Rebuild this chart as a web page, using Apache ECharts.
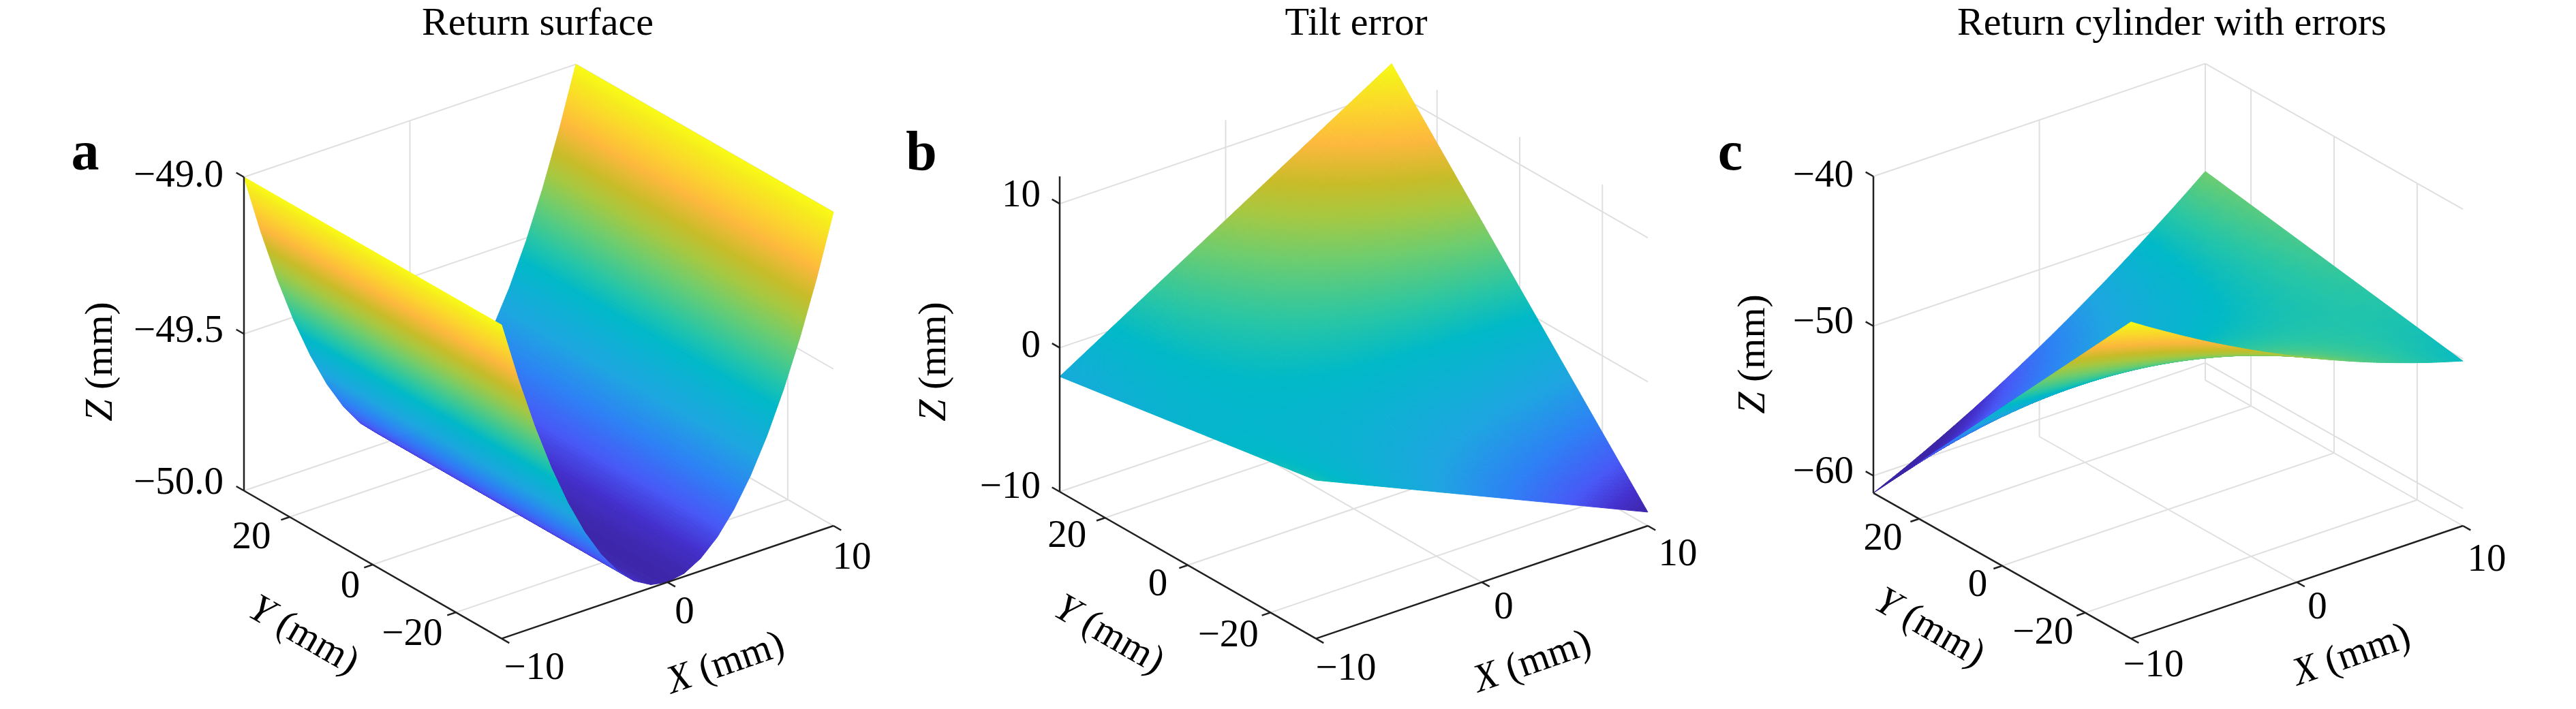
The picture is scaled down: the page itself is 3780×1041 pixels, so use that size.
<!DOCTYPE html>
<html>
<head>
<meta charset="utf-8">
<style>html,body{margin:0;padding:0;background:#fff}#chart{width:3780px;height:1041px}</style>
<script src="https://cdn.jsdelivr.net/npm/echarts@6/dist/echarts.min.js"></script>
</head>
<body>
<div id="chart"></div>
<script>
// ---------- values ----------
const panelTitles = ['Return surface', 'Tilt error', 'Return cylinder with errors'];
const panelLetters = ['a', 'b', 'c'];
const xTicks = [-10, 0, 10];
const yTicks = [-20, 0, 20];
const xTickLabels = ['\u221210', '0', '10'];
const yTickLabels = ['\u221220', '0', '20'];
const zTicksA = [-50, -49.5, -49];
const zTicksB = [-10, 0, 10];
const zTicksC = [-60, -50, -40];
const zTickLabelsA = ['\u221250.0', '\u221249.5', '\u221249.0'];
const zTickLabelsB = ['\u221210', '0', '10'];
const zTickLabelsC = ['\u221260', '\u221250', '\u221240'];
const xLimits = [-10, 10];
const yLimits = [-31, 31];
const zLimitsA = [-50, -49];
const zLimitsB = [-10, 11.9];
const zLimitsC = [-61.15, -40];
const colorLimitsA = [-50, -49];
const colorLimitsB = [-9.05, 11.9];
const colorLimitsC = [-58.5, -40];

const xSamples = [-10,-9,-8,-7,-6,-5,-4,-3,-2,-1,0,1,2,3,4,5,6,7,8,9,10];
const ySamples = [31, -31];
// surface a: Z at Y = +31 and Y = -31
const zReturnFar  = [-49.00,-49.19,-49.36,-49.51,-49.64,-49.75,-49.84,-49.91,-49.96,-49.99,-50.00,-49.99,-49.96,-49.91,-49.84,-49.75,-49.64,-49.51,-49.36,-49.19,-49.00];
const zReturnNear = [-49.00,-49.19,-49.36,-49.51,-49.64,-49.75,-49.84,-49.91,-49.96,-49.99,-50.00,-49.99,-49.96,-49.91,-49.84,-49.75,-49.64,-49.51,-49.36,-49.19,-49.00];
// surface b: four corners
const xTiltSamples = [-10, 10];
const zTiltFar  = [-2.0, 11.9];
const zTiltNear = [1.0, -9.05];
// surface c
const zCylinderFar  = [-61.15,-60.64,-60.12,-59.57,-59.00,-58.41,-57.81,-57.18,-56.53,-55.86,-55.18,-54.47,-53.74,-52.99,-52.23,-51.44,-50.63,-49.80,-48.96,-48.09,-47.20];
const zCylinderNear = [-40.00,-40.70,-41.37,-42.03,-42.67,-43.29,-43.88,-44.46,-45.02,-45.55,-46.07,-46.57,-47.04,-47.50,-47.94,-48.36,-48.75,-49.13,-49.49,-49.82,-50.14];

// colour map (parula) stops
const mapStops = [0, .05, .11, .2, .3, .44, .51, .61, .69, .75, .83, .9, .96, 1];
const mapColors = [[61,38,168],[68,48,205],[72,88,246],[46,128,245],[30,165,225],[0,185,200],[40,198,165],[110,205,110],[168,200,64],[200,188,40],[253,184,61],[252,212,45],[246,235,30],[249,251,21]];

// ---------- layout ----------
const FONT = '"Liberation Serif","Times New Roman",serif';
const TICK = 57, NAME = 58;
const panels = [
  { rect:[0,1280], L:[358,720.5], F:[736,937.6], R:[1223,772], H:460.5,
    zLim:zLimitsA, zTicks:zTicksA, zLabels:zTickLabelsA, cLim:colorLimitsA,
    xs:xSamples, rows:[zReturnFar,zReturnNear],
    zOff:[[-30,-10],[-30,-3],[-30,-1]],
    yOff:[[-64,33],[-33,33],[-56,31]],
    xOff:[[48,44],[25,45],[27,48]],
    zName:[149,531], yName:[445,934], xName:[1065,975], title:784, letter:120 },
  { rect:[1280,2500], L:[1555,722], F:[1931,937.6], R:[2418,772], H:463,
    zLim:zLimitsB, zTicks:zTicksB, zLabels:zTickLabelsB, cLim:colorLimitsB,
    xs:xTiltSamples, rows:[zTiltFar,zTiltNear],
    zOff:[[-28,-6],[-28,-2],[-28,-11]],
    yOff:[[-62,35],[-44,29],[-56,28]],
    xOff:[[44,45],[32,38],[44,43]],
    zName:[1372,531], yName:[1627,933], xName:[2249,973], title:1985, letter:1347 },
  { rect:[2500,3780], L:[2749,723.8], F:[3127,937.6], R:[3614,772], H:464.8,
    zLim:zLimitsC, zTicks:zTicksC, zLabels:zTickLabelsC, cLim:colorLimitsC,
    xs:xSamples, rows:[zCylinderFar,zCylinderNear],
    zOff:[[-29,-4.5],[-29,-4.5],[-29,0]],
    yOff:[[-62,30],[-36,29],[-53,30]],
    xOff:[[33,40],[30,38],[35,51]],
    zName:[2574,520], yName:[2831,923], xName:[3451,963], title:3182, letter:2534 }
];
const DEPTH = [-336, -440, 227];   // toward-viewer weight of the normalised box axes
const LEVELS = 128;

// ---------- orthographic projection of (X,Y,Z) to the panel's 2-D axes ----------
function projector(p) {
  const ex = [p.R[0]-p.F[0], p.R[1]-p.F[1]];
  const ey = [p.L[0]-p.F[0], p.L[1]-p.F[1]];
  const [z0,z1] = p.zLim;
  return function (x, y, z) {
    const a = (x-xLimits[0])/(xLimits[1]-xLimits[0]);
    const b = (y-yLimits[0])/(yLimits[1]-yLimits[0]);
    const c = (z-z0)/(z1-z0);
    return [p.F[0]+a*ex[0]+b*ey[0], p.F[1]+a*ex[1]+b*ey[1]-c*p.H, a*DEPTH[0]+b*DEPTH[1]+c*DEPTH[2]];
  };
}
function mapColor(t) {
  t = Math.max(0, Math.min(1, t));
  let i = 0;
  while (i < mapStops.length-2 && t > mapStops[i+1]) i++;
  const f = (t-mapStops[i])/(mapStops[i+1]-mapStops[i]);
  const a = mapColors[i], b = mapColors[i+1];
  return 'rgb('+[0,1,2].map(k=>Math.round(a[k]+(b[k]-a[k])*f)).join(',')+')';
}
function surfaceCells(p) {
  const proj = projector(p);
  const lo = p.cLim[0], hi = p.cLim[1], span = hi-lo;
  const far = p.rows[0], near = p.rows[1], cells = [];
  for (let i = 0; i < p.xs.length-1; i++) {
    const x0 = p.xs[i], x1 = p.xs[i+1];
    const zx = Math.max(Math.abs(far[i+1]-far[i]), Math.abs(near[i+1]-near[i]));
    const zy = Math.max(Math.abs(near[i]-far[i]), Math.abs(near[i+1]-far[i+1]));
    const nx = Math.max(2, Math.ceil(zx/span*LEVELS));
    const ny = Math.max(6, Math.ceil(zy/span*LEVELS));
    const zAt = (s,t)=>{ const a=far[i]+(near[i]-far[i])*t, b=far[i+1]+(near[i+1]-far[i+1])*t; return a+(b-a)*s; };
    const pt = (s,t)=>proj(x0+(x1-x0)*s, ySamples[0]+(ySamples[1]-ySamples[0])*t, zAt(s,t));
    for (let a = 0; a < nx; a++) for (let b = 0; b < ny; b++) {
      const s0=a/nx,s1=(a+1)/nx,t0=b/ny,t1=(b+1)/ny;
      const q=[pt(s0,t0),pt(s1,t0),pt(s1,t1),pt(s0,t1)];
      const zm=zAt((s0+s1)/2,(t0+t1)/2);
      cells.push([q[0][0],q[0][1],q[1][0],q[1][1],q[2][0],q[2][1],q[3][0],q[3][1],(zm-lo)/span,(q[0][2]+q[1][2]+q[2][2]+q[3][2])/4]);
    }
  }
  cells.sort((u,v)=>u[9]-v[9]);
  return cells;
}
function gridSegments(p) {
  const P = projector(p), [x0,x1]=xLimits, [y0,y1]=yLimits, [z0,z1]=p.zLim, out=[];
  const seg=(a,b)=>out.push([a[0],a[1],b[0],b[1]]);
  yTicks.forEach(y=>{ seg(P(x0,y,z0),P(x1,y,z0)); seg(P(x1,y,z0),P(x1,y,z1)); });
  xTicks.forEach(x=>{ seg(P(x,y0,z0),P(x,y1,z0)); seg(P(x,y1,z0),P(x,y1,z1)); });
  p.zTicks.forEach(z=>{ seg(P(x0,y1,z),P(x1,y1,z)); seg(P(x1,y1,z),P(x1,y0,z)); });
  return out;
}
function axisSegments(p) {
  const P = projector(p), [x0,x1]=xLimits, [y0,y1]=yLimits, [z0,z1]=p.zLim, out=[];
  const seg=(a,b)=>out.push([a[0],a[1],b[0],b[1]]);
  const ty=(y1-y0)*0.03, tx=(x1-x0)*0.026;
  seg(P(x0,y1,z0),P(x0,y1,z1));
  seg(P(x0,y1,z0),P(x0,y0,z0));
  seg(P(x0,y0,z0),P(x1,y0,z0));
  p.zTicks.forEach(z=>seg(P(x0,y1,z),P(x0,y1+ty,z)));
  yTicks.forEach(y=>seg(P(x0,y,z0),P(x0-tx,y,z0)));
  xTicks.forEach(x=>seg(P(x,y0,z0),P(x,y0-ty,z0)));
  return out;
}
function textItems(p) {
  const P = projector(p), [x0]=xLimits, [y0,y1]=yLimits, z0=p.zLim[0], out=[];
  p.zTicks.forEach((z,i)=>{ const q=P(x0,y1,z); out.push([q[0]+p.zOff[i][0],q[1]+p.zOff[i][1],p.zLabels[i],0,'right']); });
  yTicks.forEach((y,i)=>{ const q=P(x0,y,z0); out.push([q[0]+p.yOff[i][0],q[1]+p.yOff[i][1],yTickLabels[i],0,'center']); });
  xTicks.forEach((x,i)=>{ const q=P(x,y0,z0); out.push([q[0]+p.xOff[i][0],q[1]+p.xOff[i][1],xTickLabels[i],0,'center']); });
  out.push([p.zName[0],p.zName[1],'{i|Z}{n| (mm)}',90,'center']);
  out.push([p.yName[0],p.yName[1],'{i|Y}{n| (mm)}',-30,'center']);
  out.push([p.xName[0],p.xName[1],'{i|X}{n| (mm)}',19,'center']);
  return out;
}

// ---------- renderers ----------
const renderCell = (params, api) => {
  const pts=[];
  for (let k=0;k<4;k++) pts.push(api.coord([api.value(2*k),api.value(2*k+1)]));
  const c = mapColor(api.value(8));
  return {type:'polygon',silent:true,shape:{points:pts},style:{fill:c,stroke:c,lineWidth:1}};
};
const renderSegment = (color,width) => (params, api) => {
  const a=api.coord([api.value(0),api.value(1)]), b=api.coord([api.value(2),api.value(3)]);
  return {type:'line',silent:true,shape:{x1:a[0],y1:a[1],x2:b[0],y2:b[1]},style:{stroke:color,lineWidth:width,fill:null}};
};
const richStyle = (size,it)=>({fontFamily:FONT,fontSize:size,fontStyle:it?'italic':'normal',fill:'#000'});
const renderText = (data) => (params, api) => {
  const d=data[params.dataIndex];
  const c=api.coord([d[0],d[1]]);
  const isName=String(d[2]).charAt(0)==='{';
  return {type:'text',silent:true,x:c[0],y:c[1],rotation:d[3]*Math.PI/180,
    style:{text:d[2],align:d[4],verticalAlign:'middle',fontFamily:FONT,fontSize:isName?NAME:TICK,fill:'#000',
      rich:isName?{i:richStyle(NAME,true),n:richStyle(NAME,false)}:undefined}};
};

// ---------- option ----------
const grid=[],xAxis=[],yAxis=[],series=[],title=[];
panels.forEach((p,i)=>{
  grid.push({left:p.rect[0],top:0,width:p.rect[1]-p.rect[0],height:1041});
  xAxis.push({gridIndex:i,type:'value',min:p.rect[0],max:p.rect[1],show:false});
  yAxis.push({gridIndex:i,type:'value',min:0,max:1041,inverse:true,show:false});
  const base={type:'custom',coordinateSystem:'cartesian2d',xAxisIndex:i,yAxisIndex:i,silent:true,animation:false,clip:false,progressive:0};
  const texts=textItems(p);
  series.push(Object.assign({},base,{name:'grid '+i,z:1,renderItem:renderSegment('#dfdfdf',2),data:gridSegments(p),encode:{x:[0,2],y:[1,3]}}));
  series.push(Object.assign({},base,{name:panelTitles[i],z:2,renderItem:renderCell,data:surfaceCells(p),encode:{x:[0,2,4,6],y:[1,3,5,7]}}));
  series.push(Object.assign({},base,{name:'axes '+i,z:3,renderItem:renderSegment('#202020',2.5),data:axisSegments(p),encode:{x:[0,2],y:[1,3]}}));
  series.push(Object.assign({},base,{name:'text '+i,z:4,renderItem:renderText(texts),data:texts.map(t=>[t[0],t[1]]),encode:{x:0,y:1}}));
  title.push({text:panelTitles[i],left:p.title,top:2,textAlign:'center',textStyle:{fontFamily:FONT,fontSize:58,fontWeight:'normal',color:'#000'}});
  title.push({text:panelLetters[i],left:p.letter,top:182,textAlign:'center',textStyle:{fontFamily:FONT,fontSize:82,fontWeight:'bold',color:'#000'}});
});
const chart=echarts.init(document.getElementById('chart'),null,{renderer:'canvas',width:3780,height:1041});
chart.setOption({animation:false,backgroundColor:'#fff',tooltip:{show:false},title,grid,xAxis,yAxis,series});
</script>
</body>
</html>
